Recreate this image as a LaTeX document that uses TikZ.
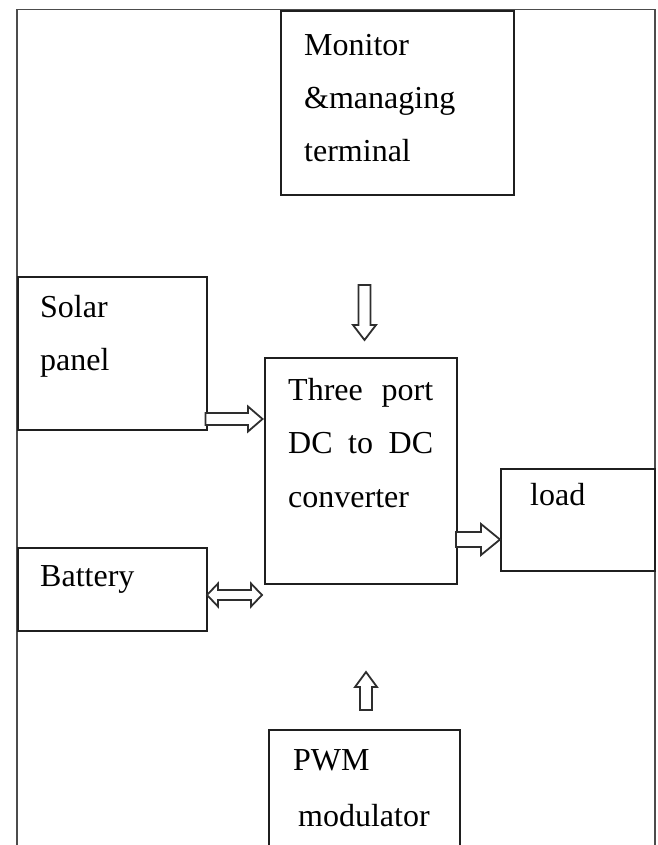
\documentclass[tikz,border=0pt]{standalone}
\usepackage{fontspec}
\setmainfont{Liberation Serif}
\begin{document}
\begin{tikzpicture}[x=1pt,y=-1pt,
  box/.style={draw=black!88, line width=2.2pt, rectangle, anchor=north west, inner sep=0pt},
  frameline/.style={draw=black!70, line width=1.6pt},
  blk/.style={draw=black!82, line width=1.8pt, line join=miter, fill=white},
  lbl/.style={anchor=base west, inner sep=0pt, font=\fontsize{32}{54}\selectfont}]
\useasboundingbox (0,0) rectangle (657,845);
\clip (0,0) rectangle (657,845);
% outer frame
\draw[frameline] (17,860) -- (17,9.5) -- (655,9.5) -- (655,860);
% boxes
\node[box, minimum width=233pt, minimum height=184pt] (mon) at (280,10) {};
\node[box, minimum width=188.5pt, minimum height=153pt] (solar) at (17,276) {};
\node[box, minimum width=192pt, minimum height=226pt] (conv) at (264,357) {};
\node[box, minimum width=154pt, minimum height=101.5pt] (load) at (500,468) {};
\node[box, minimum width=188.5pt, minimum height=83pt] (batt) at (17,547) {};
\node[box, minimum width=191pt, minimum height=140pt] (pwm) at (268,729) {};
% texts
\node[lbl] (t1) at (304,56) {Monitor};
\node[lbl] (t2) at (304,109) {\&managing};
\node[lbl] (t3) at (304,162) {terminal};
\node[lbl] (t4) at (40,317) {Solar};
\node[lbl] (t5) at (40,370) {panel};
\node[lbl] (t6) at (288,400) {\makebox[145pt][s]{Three port}};
\node[lbl] (t7) at (288,453.5) {\makebox[145pt][s]{DC to DC}};
\node[lbl] (t8) at (288,507) {converter};
\node[lbl] (t9) at (530,505) {load};
\node[lbl] (t10) at (40,586) {Battery};
\node[lbl] (t11) at (293,770) {PWM};
\node[lbl] (t12) at (298,826) {modulator};
% block arrows
\draw[blk] (358.5,285) -- (370.5,285) -- (370.5,325) -- (376,325) -- (364.5,340) -- (353,325) -- (358.5,325) -- cycle;
\draw[blk] (205.5,413) -- (248,413) -- (248,406.5) -- (262.5,419) -- (248,431.5) -- (248,425) -- (205.5,425) -- cycle;
\draw[blk] (207,595) -- (218,583.5) -- (218,590) -- (251,590) -- (251,583.5) -- (262,595) -- (251,606.5) -- (251,600) -- (218,600) -- (218,606.5) -- cycle;
\draw[blk] (456,532) -- (481,532) -- (481,524) -- (500,539.5) -- (481,555) -- (481,547) -- (456,547) -- cycle;
\draw[blk] (360,710) -- (360,687) -- (355,687) -- (366,672) -- (377,687) -- (372,687) -- (372,710) -- cycle;
\end{tikzpicture}
\end{document}
